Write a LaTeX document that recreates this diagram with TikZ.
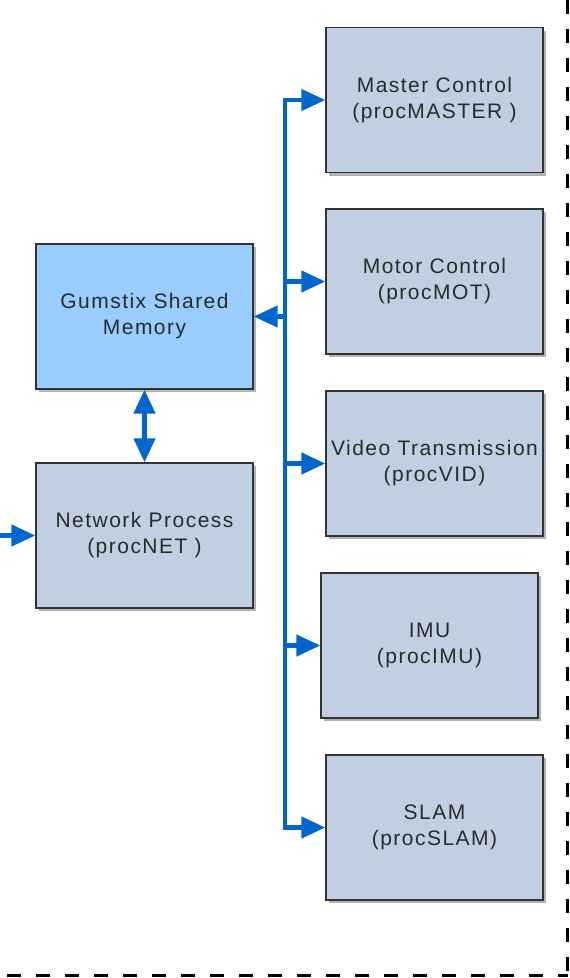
\documentclass[tikz,border=0pt]{standalone}
\usepackage{fontspec}
\setmainfont{Liberation Sans}[LetterSpace=7]
\usetikzlibrary{arrows.meta,shadows}
\definecolor{procfill}{HTML}{C0D0E2}
\definecolor{memfill}{HTML}{99CCFF}
\definecolor{flowblue}{HTML}{0066CC}
\definecolor{boxline}{HTML}{333333}
\definecolor{txt}{HTML}{2A2A2A}
\tikzset{
  unitbox/.style={draw=boxline, line width=1.3pt, fill=procfill,
    minimum width=217pt, minimum height=145pt, inner sep=0pt,
    align=center, text=txt,
    font=\fontsize{21}{26}\selectfont,
    drop shadow={shadow xshift=3pt, shadow yshift=-3pt, fill=black!30, opacity=1}},
  membox/.style={unitbox, fill=memfill},
  flow/.style={draw=flowblue, line width=4.5pt, line join=miter},
  tip/.style={-{Triangle[length=24pt,width=21pt]}},
  bothtips/.style={{Triangle[length=24pt,width=21pt]}-{Triangle[length=24pt,width=21pt]}},
  frame/.style={draw=black, line width=3pt, dash pattern=on 14pt off 15pt}
}
\begin{document}
\begin{tikzpicture}[x=1pt, y=-1pt]
  \useasboundingbox (0,0) rectangle (570,978);

  % process boxes
  \node[unitbox] (master) at (434.5,100)   {Master Control\\(procMASTER )};
  \node[unitbox] (motor)  at (434.5,281.5) {Motor Control\\(procMOT)};
  \node[unitbox] (video)  at (434.5,463.5) {Video Transmission\\(procVID)};
  \node[unitbox] (imu)    at (429.5,645.5) {IMU\\(procIMU)};
  \node[unitbox] (slam)   at (434.5,827.5) {SLAM\\(procSLAM)};
  \node[membox]  (mem)    at (144.5,316.5) {Gumstix Shared\\Memory};
  \node[unitbox] (net)    at (144.5,535.5) {Network Process\\(procNET )};

  % shared bus and its branches
  \coordinate (bus) at (285,0);
  \coordinate (inp) at (0,535.5);
  \draw[flow, bothtips] (master.west) -- (bus |- master.west)
        -- (bus |- slam.west) -- (slam.west);
  \draw[flow, tip] (bus |- motor.west) -- (motor.west);
  \draw[flow, tip] (bus |- video.west) -- (video.west);
  \draw[flow, tip] (bus |- imu.west) -- (imu.west);
  \draw[flow, tip] (bus |- mem.east) -- (mem.east);
  \draw[flow, bothtips] (mem.south) -- (net.north);
  \draw[flow, tip] (inp) -- (net.west);

  % dashed boundary
  \coordinate (fr) at (567.5,0);
  \coordinate (fb) at (7,975);
  \draw[frame] (fr) -- (fr |- fb);
  \draw[frame] (fb) -- (fr |- fb);
\end{tikzpicture}
\end{document}
